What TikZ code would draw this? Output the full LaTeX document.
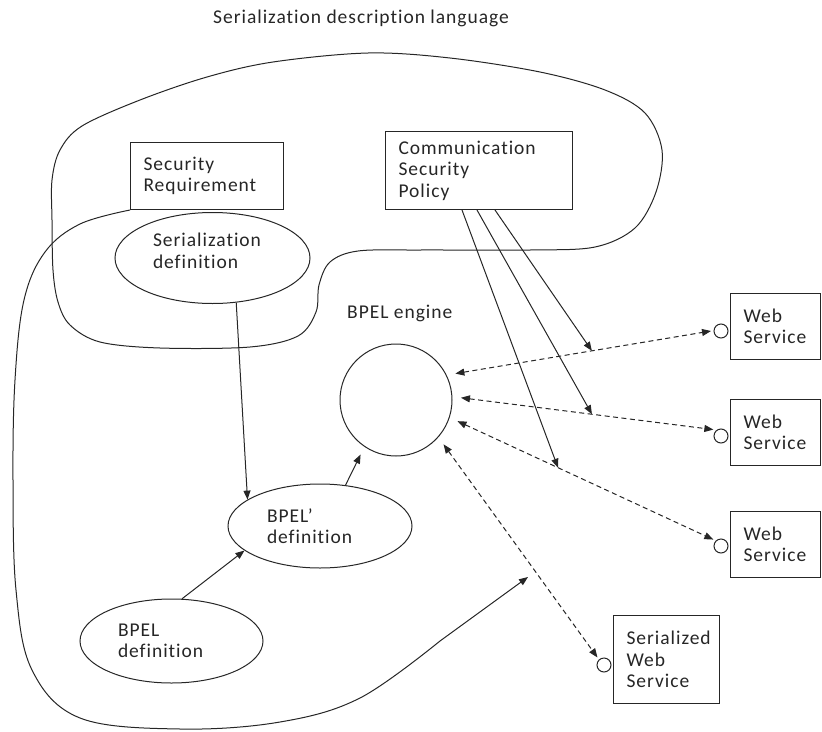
\documentclass[tikz,border=0pt]{standalone}
\usepackage{fontspec}
\setmainfont{Carlito}[LetterSpace=5.0, Ligatures=NoCommon]
\usetikzlibrary{arrows.meta,shapes.geometric,calc}

\tikzset{
  ink/.style={draw=black!85, line width=1pt},
  box/.style={ink, rectangle, anchor=north west, align=left, inner xsep=13pt, inner ysep=0pt},
  oval/.style={ink, ellipse, inner sep=0pt, align=left},
  port/.style={ink, circle, minimum size=14pt, inner sep=0pt, outer sep=3pt},
  txt/.style={inner sep=0pt, align=left},
  tip/.style={-{Triangle[length=9pt,width=7pt]}},
  duplex/.style={ink, dash pattern=on 5pt off 3.5pt,
    {Triangle[length=9pt,width=7pt]}-{Triangle[length=9pt,width=7pt]}},
}

\begin{document}
\begin{tikzpicture}[x=1pt, y=-1pt, font=\fontsize{19.5}{21.5}\selectfont, text=black!85]
\useasboundingbox (0,0) rectangle (822,731);

% headings
\node[txt, anchor=base west] (sdl) at (213,23) {Serialization description language};
\node[txt, anchor=base west] (enginelabel) at (347,318) {BPEL engine};

% serialization description language region
\draw[ink] plot[smooth cycle, tension=0.55] coordinates {
  (368,53) (450,58) (540,72) (605,90) (645,113) (662,150) (656,192) (635,228)
  (595,247) (530,250) (420,250) (358,251) (330,262) (319,285) (316,312)
  (298,336) (250,347) (160,348) (100,342) (70,325) (58,302) (53,270)
  (52,220) (52,180) (60,150) (82,126) (140,100) (207,77) (273,62)};

% rectangles
\node[box, text width=127pt, minimum height=67pt] (secreq) at (130,142) {Security\\Requirement};
\node[box, text width=161pt, minimum height=78pt] (comm) at (385,131) {Communication\\Security\\Policy};
\node[box, text width=64pt, minimum height=66pt] (ws1) at (730,293) {Web\\Service};
\node[box, text width=64pt, minimum height=66pt] (ws2) at (730,399) {Web\\Service};
\node[box, text width=64pt, minimum height=66pt] (ws3) at (730,511) {Web\\Service};
\node[box, text width=80pt, minimum height=88pt] (sws) at (613,615) {Serialized\\Web\\Service};

% interface ports
\node[port] (ws1port) at (721,331) {};
\node[port] (ws2port) at (721,436) {};
\node[port] (ws3port) at (721,546) {};
\node[port] (swsport) at (604,665) {};

% ellipses and engine
\node[oval, minimum width=195pt, minimum height=91pt] (serdef) at (212.5,258) {};
\node[txt, text width=119pt] (serdeftxt) at (212.5,251) {Serialization\\definition};
\node[oval, minimum width=184pt, minimum height=84pt, text width=106pt] (bpelp) at (320,526) {BPEL’\\definition};
\node[oval, minimum width=183pt, minimum height=84pt, text width=107pt] (bpel) at (171.5,641) {BPEL\\definition};
\node[ink, circle, minimum size=112pt, inner sep=0pt, outer sep=9pt] (engine) at (396,400) {};

% message exchanges
\draw[duplex] (engine.24) -- coordinate[pos=0.534] (hit1) (ws1port.west);
\draw[duplex] (engine.2.6) -- coordinate[pos=0.519] (hit2) (ws2port.140);
\draw[duplex] (engine.-19) -- coordinate[pos=0.393] (hit3) (ws3port.140);
\draw[duplex] (engine.-43) -- (swsport.131);

% policy application
\draw[ink, tip] ($(comm.south west)+(110,0)$) -- (hit1);
\draw[ink, tip] ($(comm.south west)+(92,0)$) -- (hit2);
\draw[ink, tip] ($(comm.south west)+(77,0)$) -- (hit3);

% transformations
\draw[ink, tip] (serdef.-62) -- (bpelp.160);
\draw[ink, tip] (bpel.76) -- (bpelp.198);
\draw[ink, tip] (bpelp.58) -- (engine.237);

% security requirement scope
\coordinate (scopeend) at (528,577);
\draw[ink, tip] plot[smooth, tension=0.6] coordinates {
  (secreq.south west) (80,224) (45,252) (24,300) (15,380) (13,480)
  (16,590) (32,670) (80,718) (180,729) (280,722) (360,698) (440,641)}
  -- (scopeend);
\end{tikzpicture}
\end{document}
